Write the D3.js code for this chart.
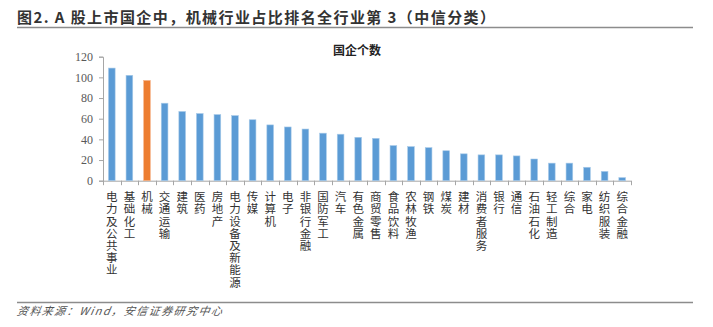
<!DOCTYPE html>
<html>
<head>
<meta charset="utf-8">
<script src="https://cdn.jsdelivr.net/npm/d3@7"></script>
<style>
  html, body { margin: 0; padding: 0; background: #fff; }
  svg { display: block; }
  .vlabel { writing-mode: vertical-rl; text-orientation: upright; }
</style>
</head>
<body>
<div id="chart"></div>
<script>
// 中信一级行业：A股上市国企个数
const categories = [
  "电力及公共事业", "基础化工", "机械", "交通运输", "建筑", "医药", "房地产",
  "电力设备及新能源", "传媒", "计算机", "电子", "非银行金融", "国防军工", "汽车",
  "有色金属", "商贸零售", "食品饮料", "农林牧渔", "钢铁", "煤炭", "建材",
  "消费者服务", "银行", "通信", "石油石化", "轻工制造", "综合", "家电",
  "纺织服装", "综合金融"
];
const counts = [
  109, 102, 97, 75, 67, 65, 64,
  63, 59, 54, 52, 50, 46, 45,
  42, 41, 34, 33, 32, 29, 26,
  25, 25, 24, 21, 17, 17, 13,
  9, 3
];
const highlight = "机械";
const yTicks = [0, 20, 40, 60, 80, 100, 120];
const titleText = "图2. A 股上市国企中，机械行业占比排名全行业第 3（中信分类）";
const seriesName = "国企个数";
const sourceText = "资料来源：Wind，安信证券研究中心";

const W = 713, H = 327;
const svg = d3.select("#chart").append("svg")
  .attr("width", W).attr("height", H);

const cjk = "'Noto Sans CJK SC', 'Noto Sans', sans-serif";

// header and footer rules
svg.append("text")
  .attr("x", 17).attr("y", 23)
  .attr("font-family", cjk).attr("font-weight", "bold")
  .attr("font-size", 15).attr("fill", "#333")
  .attr("textLength", 478).attr("lengthAdjust", "spacing")
  .text(titleText);
svg.append("line")
  .attr("x1", 17).attr("x2", 693).attr("y1", 27.5).attr("y2", 27.5)
  .attr("stroke", "#8c8c8c").attr("stroke-width", 1.5);
svg.append("line")
  .attr("x1", 17).attr("x2", 693).attr("y1", 302.5).attr("y2", 302.5)
  .attr("stroke", "#8c8c8c").attr("stroke-width", 1.5);
svg.append("text")
  .attr("x", 17).attr("y", 315)
  .attr("font-family", cjk).attr("font-style", "italic")
  .attr("font-size", 11).attr("fill", "#555")
  .attr("textLength", 205).attr("lengthAdjust", "spacing")
  .attr("transform", "skewX(-10) translate(55,0)")
  .text(sourceText);

// plot area
const x0 = 103, x1 = 631, yTop = 56.7, yBase = 180.7;
const x = d3.scaleBand().domain(categories).range([x0, x1]).padding(0);
const y = d3.scaleLinear().domain([0, 120]).range([yBase, yTop]);

const axisColor = "#a6a6a6";

// y axis
const yAxis = svg.append("g")
  .attr("transform", `translate(${x0},0)`)
  .call(d3.axisLeft(y).tickValues(yTicks).tickSize(4).tickPadding(6));
yAxis.select(".domain").attr("stroke", axisColor);
yAxis.selectAll(".tick line").attr("stroke", axisColor);
yAxis.selectAll(".tick text")
  .attr("font-family", "'Liberation Serif', 'Times New Roman', serif")
  .attr("font-size", 12).attr("fill", "#595959");

// x axis with ticks on band boundaries
const xAxis = svg.append("g").attr("transform", `translate(0,${yBase})`);
xAxis.append("line")
  .attr("x1", x0).attr("x2", x1).attr("y1", 0.5).attr("y2", 0.5)
  .attr("stroke", axisColor);
const bounds = categories.map(c => x(c)).concat([x1]);
xAxis.selectAll("line.tk").data(bounds).join("line")
  .attr("class", "tk")
  .attr("x1", d => Math.round(d) + 0.5).attr("x2", d => Math.round(d) + 0.5)
  .attr("y1", 0).attr("y2", 4.5)
  .attr("stroke", axisColor);

// bars
const barW = x.bandwidth() * 0.38;
svg.append("g").selectAll("rect").data(categories).join("rect")
  .attr("x", d => x(d) + (x.bandwidth() - barW) / 2)
  .attr("y", (d, i) => y(counts[i]))
  .attr("width", barW)
  .attr("height", (d, i) => yBase - y(counts[i]))
  .attr("fill", d => d === highlight ? "#ED7D31" : "#5B9BD5")
  .attr("stroke", d => d === highlight ? "#f5b48a" : "#a9cbe9")
  .attr("stroke-width", 0.6);

// vertical category labels, one upright text per category
svg.append("g").selectAll("text").data(categories).join("text")
  .attr("class", "vlabel")
  .attr("x", d => x(d) + x.bandwidth() / 2)
  .attr("y", 191)
  .attr("font-family", cjk).attr("font-size", 11.5).attr("fill", "#333")
  .attr("letter-spacing", 0.7)
  .text(d => d);

// series title
svg.append("text")
  .attr("x", 357).attr("y", 55)
  .attr("text-anchor", "middle")
  .attr("font-family", cjk).attr("font-weight", "bold")
  .attr("font-size", 12).attr("fill", "#222")
  .text(seriesName);
</script>
</body>
</html>
